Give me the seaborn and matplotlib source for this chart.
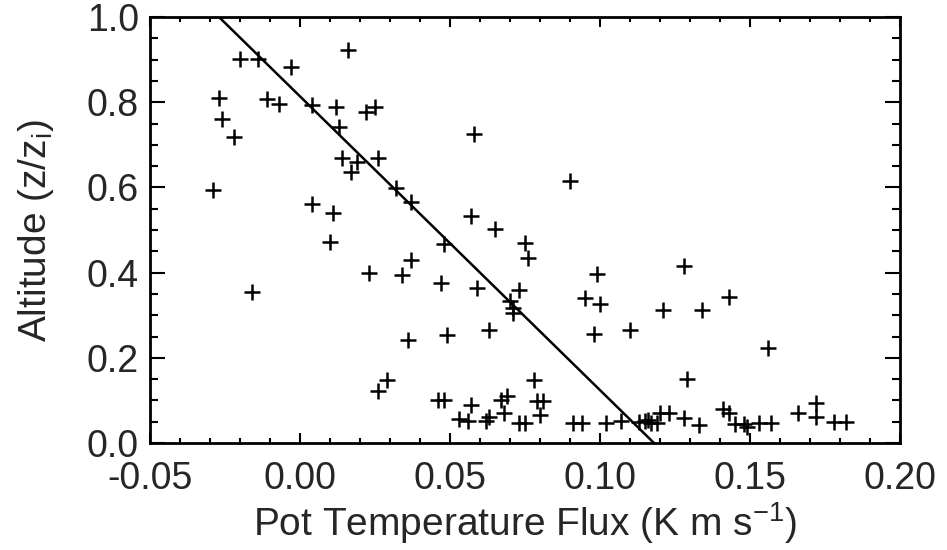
import matplotlib
matplotlib.use("Agg")
import matplotlib.pyplot as plt
import seaborn as sns
from matplotlib.ticker import MultipleLocator

# data
flux = [
    -0.020, -0.014, -0.003, 0.016, -0.027, -0.026, -0.022, -0.029, -0.011, -0.007,
    0.004, 0.012, 0.022, 0.025, 0.013, 0.014, 0.019, 0.017, 0.026, 0.032,
    0.004, 0.011, 0.058, 0.090, 0.037, 0.057, 0.065, 0.010, 0.023, 0.034,
    -0.016, 0.029, 0.026, 0.048, 0.075, 0.076, 0.037, 0.047, 0.059, 0.073,
    0.070, 0.071, 0.071, 0.099, 0.095, 0.100, 0.036, 0.049, 0.063, 0.098,
    0.110, 0.078, 0.046, 0.048, 0.057, 0.067, 0.069, 0.079, 0.081, 0.053,
    0.056, 0.063, 0.062, 0.068, 0.080, 0.073, 0.075, 0.091, 0.094, 0.102,
    0.107, 0.115, 0.128, 0.121, 0.134, 0.143, 0.156, 0.129, 0.113, 0.116,
    0.117, 0.120, 0.123, 0.119, 0.128, 0.133, 0.141, 0.143, 0.145, 0.148,
    0.149, 0.153, 0.157, 0.166, 0.172, 0.172, 0.178, 0.182,
]
altitude = [
    0.902, 0.902, 0.883, 0.922, 0.811, 0.761, 0.718, 0.595, 0.808, 0.795,
    0.793, 0.789, 0.777, 0.789, 0.742, 0.670, 0.660, 0.636, 0.670, 0.599,
    0.562, 0.540, 0.726, 0.614, 0.566, 0.534, 0.502, 0.472, 0.399, 0.395,
    0.354, 0.149, 0.123, 0.467, 0.469, 0.434, 0.430, 0.376, 0.364, 0.360,
    0.333, 0.317, 0.305, 0.397, 0.340, 0.326, 0.243, 0.253, 0.266, 0.256,
    0.266, 0.149, 0.102, 0.102, 0.090, 0.102, 0.110, 0.098, 0.098, 0.057,
    0.052, 0.060, 0.052, 0.070, 0.066, 0.047, 0.047, 0.047, 0.047, 0.047,
    0.052, 0.052, 0.415, 0.313, 0.313, 0.342, 0.223, 0.151, 0.050, 0.054,
    0.046, 0.070, 0.070, 0.046, 0.058, 0.042, 0.081, 0.071, 0.045, 0.045,
    0.038, 0.048, 0.048, 0.070, 0.093, 0.062, 0.050, 0.050,
]

# fitted line
line_flux = [0.118, -0.027]
line_alt = [0.0, 1.0]

sns.set_style("ticks")
plt.rcParams["font.family"] = ["Liberation Sans", "DejaVu Sans"]
plt.rcParams["mathtext.default"] = "regular"

fig = plt.figure(figsize=(9.47, 5.5), dpi=100)
ax = fig.add_axes([0.1584, 0.1945, 0.7920, 0.7745])

sns.scatterplot(x=flux, y=altitude, ax=ax, marker="+", s=120,
                color="black", linewidth=1.8)
sns.lineplot(x=line_flux, y=line_alt, ax=ax, color="black",
             linewidth=1.8, sort=False)

ax.set_xlim(-0.05, 0.20)
ax.set_ylim(0.0, 1.0)
ax.xaxis.set_major_locator(MultipleLocator(0.05))
ax.xaxis.set_minor_locator(MultipleLocator(0.01))
ax.yaxis.set_major_locator(MultipleLocator(0.2))
ax.yaxis.set_minor_locator(MultipleLocator(0.05))
ax.set_xticklabels([f"{v:.2f}" for v in ax.get_xticks()])
ax.set_yticklabels([f"{v:.1f}" for v in ax.get_yticks()])

ax.tick_params(axis="both", which="both", direction="in",
               top=True, right=True, labelsize=27, width=1.5, color="black")
ax.tick_params(axis="x", which="major", length=7, pad=13)
ax.tick_params(axis="x", which="minor", length=3.5)
ax.tick_params(axis="y", which="major", length=11, pad=8)
ax.tick_params(axis="y", which="minor", length=5.5)
for sp in ax.spines.values():
    sp.set_linewidth(2)
    sp.set_color("black")

ax.set_xlabel(r"Pot Temperature Flux (K m s$^{-1}$)", fontsize=28, labelpad=2)
ax.set_ylabel(r"Altitude (z/z$_{i}$)", fontsize=28, labelpad=22)

fig.savefig("out.png", dpi=100)
